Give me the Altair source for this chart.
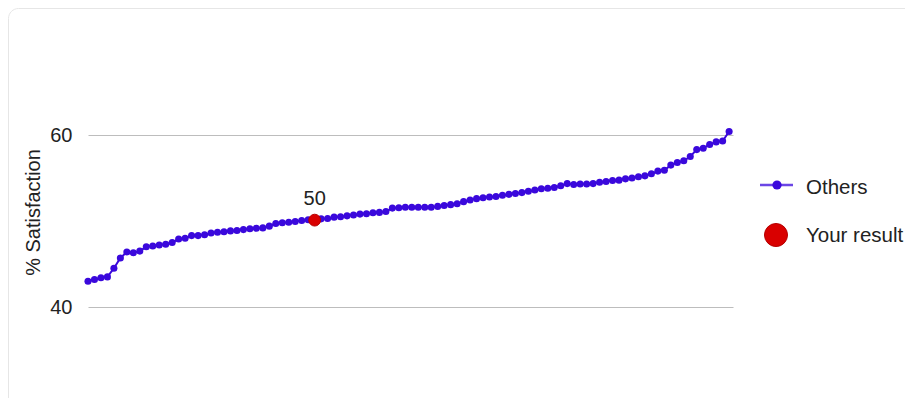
import altair as alt
import pandas as pd

# ---------------- data ----------------
others = [
    43.0, 43.2, 43.4, 43.5, 44.5, 45.7, 46.4, 46.3, 46.5, 47.0,
    47.1, 47.2, 47.3, 47.5, 47.9, 48.0, 48.3, 48.3, 48.4, 48.6,
    48.7, 48.75, 48.85, 48.9, 49.0, 49.1, 49.15, 49.2, 49.4, 49.7,
    49.8, 49.85, 49.95, 50.05, 50.15, 50.2, 50.25, 50.3, 50.45, 50.5,
    50.6, 50.7, 50.8, 50.85, 50.95, 51.0, 51.1, 51.5, 51.55, 51.6,
    51.6, 51.6, 51.6, 51.6, 51.7, 51.8, 51.9, 52.0, 52.25, 52.45,
    52.6, 52.7, 52.8, 52.85, 53.0, 53.1, 53.2, 53.3, 53.45, 53.6,
    53.75, 53.8, 53.9, 54.1, 54.35, 54.25, 54.3, 54.3, 54.35, 54.5,
    54.6, 54.7, 54.75, 54.9, 55.0, 55.15, 55.25, 55.5, 55.8, 55.9,
    56.5, 56.8, 57.0, 57.5, 58.3, 58.45, 58.9, 59.2, 59.3, 60.4,
]
result_rank = [35]
result_value = [50.1]
series_names = ["Others", "Your result"]
y_ticks = [40, 60]
y_title = "% Satisfaction"

# ---------------- styles ----------------
BLUE = "#3a08dc"
RED = "#d90000"
TEXT = "#222222"
FONT = "Liberation Sans"
W, H = 645, 344

df = pd.DataFrame({"rank": list(range(len(others))), "pct": others})
res = pd.DataFrame({"rank": result_rank, "pct": result_value})
leg = pd.DataFrame({"series": series_names})

x_enc = alt.X("rank:Q", axis=None,
              scale=alt.Scale(domain=[0, len(others) - 0.4], nice=False, zero=False))
y_enc = alt.Y("pct:Q",
              scale=alt.Scale(domain=[30, 70], nice=False, zero=False),
              axis=alt.Axis(values=y_ticks, grid=True, gridColor="#bdbdbd",
                            gridWidth=1, domain=False, ticks=False,
                            labelFontSize=20, labelColor=TEXT, labelFont=FONT,
                            labelPadding=16, title=y_title, titleFontSize=20,
                            titleFont=FONT, titleFontWeight="normal",
                            titleColor=TEXT, titleX=-45, titleY=163,
                            titleAngle=270, titleAlign="center",
                            titleBaseline="bottom"))

frame = alt.Chart(leg.head(1)).mark_rect(
    fill="transparent", stroke="#e6e6e6", strokeWidth=1, cornerRadius=10
).encode(x=alt.value(-79.5), x2=alt.value(W + 200),
         y=alt.value(-40.5), y2=alt.value(H + 60))

line = alt.Chart(df).mark_line(color=BLUE, strokeWidth=2).encode(x=x_enc, y=y_enc)
dots = alt.Chart(df).mark_circle(color=BLUE, size=50, opacity=1).encode(x=x_enc, y=y_enc)
you = alt.Chart(res).mark_circle(fill=RED, stroke="#b50000", strokeWidth=1,
                                 size=140, opacity=1).encode(x=x_enc, y=y_enc)
you_lbl = alt.Chart(res).mark_text(fontSize=20, font=FONT, color=TEXT,
                                   baseline="middle", dy=-21).encode(
    x=x_enc, y=y_enc, text=alt.Text("pct:Q", format=".0f"))

# legend (drawn at the right of the plot)
leg_line = alt.Chart(leg.head(1)).mark_rule(color=BLUE, strokeWidth=2.5, opacity=0.75).encode(
    x=alt.value(672), x2=alt.value(705), y=alt.value(136))
leg_dot = alt.Chart(leg.head(1)).mark_circle(color=BLUE, size=85, opacity=1).encode(
    x=alt.value(689), y=alt.value(136))
leg_red = alt.Chart(leg.tail(1)).mark_circle(fill=RED, stroke="#b50000", strokeWidth=1,
                                             size=530, opacity=1).encode(
    x=alt.value(688), y=alt.value(186))
leg_t1 = alt.Chart(leg.head(1)).mark_text(fontSize=20.5, font=FONT, color=TEXT,
                                          align="left", baseline="middle").encode(
    x=alt.value(718), y=alt.value(139), text="series:N")
leg_t2 = alt.Chart(leg.tail(1)).mark_text(fontSize=20.5, font=FONT, color=TEXT,
                                          align="left", baseline="middle").encode(
    x=alt.value(718), y=alt.value(187), text="series:N")

chart = alt.layer(frame, line, dots, you, you_lbl,
                  leg_line, leg_dot, leg_red, leg_t1, leg_t2).properties(
    width=W, height=H,
    autosize=alt.AutoSizeParams(type="none"),
    padding={"left": 80, "top": 41, "right": 172, "bottom": 5},
    background="white",
).configure_view(stroke=None)

chart.save("out.html", embed_options={"renderer": "svg", "actions": False})
